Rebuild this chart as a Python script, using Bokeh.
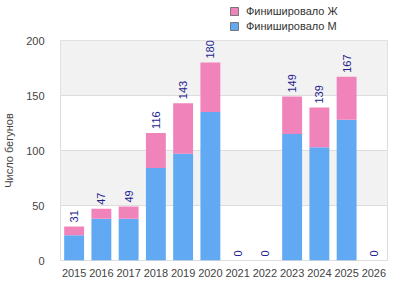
import math
from bokeh.plotting import figure
from bokeh.layouts import column
from bokeh.models import ColumnDataSource, Legend, LegendItem, Range1d
from bokeh.core.properties import value
from bokeh.embed import file_html
from bokeh.resources import INLINE

years = ["2015", "2016", "2017", "2018", "2019", "2020", "2021", "2022", "2023", "2024", "2025", "2026"]
male = [23, 38, 38, 84, 97, 135, 0, 0, 115, 103, 128, 0]
total = [31, 47, 49, 116, 143, 180, 0, 0, 149, 139, 167, 0]
female = [t - m for t, m in zip(total, male)]
y_ticks = [0, 50, 100, 150, 200]
label_f = "Финишировало Ж"
label_m = "Финишировало М"
y_label = "Число бегунов"

PINK = "#f183bb"
BLUE = "#61a9f3"
FONT = "Liberation Sans"

src = ColumnDataSource(dict(x=years, m=male, f=female, t=total, tl=[str(v) for v in total]))

# ---- legend strip ----
lg = figure(x_range=Range1d(0, 1), y_range=Range1d(0, 1), width=396, height=35,
            output_backend="svg", toolbar_location=None,
            min_border_left=0, min_border_right=0, min_border_top=0, min_border_bottom=0,
            x_axis_location=None, y_axis_location=None)
lg.outline_line_color = None
lg.xgrid.visible = False
lg.ygrid.visible = False
df = lg.vbar(x=[-5], top=[-10], bottom=[-20], width=0.5, fill_color=PINK, line_color="#777777")
dm = lg.vbar(x=[-5], top=[-10], bottom=[-20], width=0.5, fill_color=BLUE, line_color="#777777")
legend = Legend(items=[LegendItem(label=label_f, renderers=[df]), LegendItem(label=label_m, renderers=[dm])],
                location=(169, 3), orientation="vertical",
                glyph_width=10, glyph_height=10, label_standoff=7, spacing=2,
                padding=0, margin=0, border_line_color=None, background_fill_alpha=0,
                label_text_font=FONT, label_text_font_size="11px", label_text_color="#333333",
                label_height=13)
lg.add_layout(legend, "center")

# ---- main chart ----
p = figure(x_range=years, y_range=Range1d(0, 200), width=396, height=265,
           output_backend="svg", toolbar_location=None,
           min_border_left=60, min_border_right=9, min_border_top=5, min_border_bottom=40)
p.background_fill_color = "white"
p.outline_line_color = "#dddddd"

p.vbar_stack(["m", "f"], x="x", width=0.73, source=src,
             fill_color=[BLUE, PINK], line_color=None)

p.text(x="x", y="t", text="tl", source=src, angle=math.pi / 2,
       text_align="left", text_baseline="middle", y_offset=-4,
       text_color="#1f1f8f", text_font=value(FONT), text_font_size="11px")

p.ygrid.ticker = y_ticks
p.yaxis.ticker = y_ticks
p.ygrid.grid_line_color = "#dddddd"
p.ygrid.band_fill_color = "#f2f2f2"
p.ygrid.band_fill_alpha = 1
p.xgrid.grid_line_color = None

for ax in (p.xaxis[0], p.yaxis[0]):
    ax.axis_line_color = None
    ax.major_tick_line_color = None
    ax.minor_tick_line_color = None
    ax.major_label_text_font = FONT
    ax.major_label_text_font_size = "11px"
    ax.major_label_text_color = "#444444"
    ax.major_label_text_font_style = "normal"

p.yaxis.major_label_standoff = 10
p.xaxis.major_label_standoff = 2
p.yaxis.axis_label = y_label
p.yaxis.axis_label_text_font = FONT
p.yaxis.axis_label_text_font_size = "11px"
p.yaxis.axis_label_text_font_style = "normal"
p.yaxis.axis_label_text_color = "#444444"
p.yaxis.axis_label_standoff = 8

layout = column(lg, p, spacing=0)
open("out.html", "w").write(file_html(layout, INLINE))
